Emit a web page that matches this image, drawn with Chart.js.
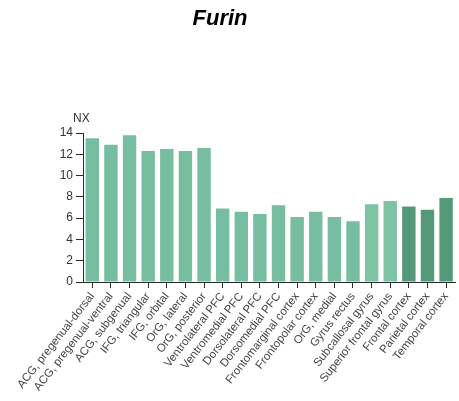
<!DOCTYPE html>
<html>
<head>
<meta charset="utf-8">
<script src="https://cdn.jsdelivr.net/npm/chart.js@4.4.1/dist/chart.umd.min.js"></script>
<style>
  html, body { margin: 0; padding: 0; background: #ffffff; }
  #wrap { width: 459px; height: 401px; position: relative; }
</style>
</head>
<body>
<div id="wrap"><canvas id="chart"></canvas></div>
<script>
// Brain regions and Furin expression (NX)
const regions = [
  'ACG, pregenual-dorsal', 'ACG, pregenual-ventral', 'ACG, subgenual',
  'IFG, triangular', 'IFG, orbital', 'OrG, lateral', 'OrG, posterior',
  'Ventrolateral PFC', 'Ventromedial PFC', 'Dorsolateral PFC', 'Dorsomedial PFC',
  'Frontomarginal cortex', 'Frontopolar cortex', 'OrG, medial', 'Gyrus rectus',
  'Subcallosal gyrus', 'Superior frontal gyrus', 'Frontal cortex',
  'Parietal cortex', 'Temporal cortex'
];
const nxValues = [
  13.5, 12.9, 13.8, 12.3, 12.5, 12.3, 12.6,
  6.9, 6.6, 6.4, 7.2, 6.1, 6.6, 6.1, 5.7,
  7.3, 7.6, 7.1, 6.8, 7.9
];
const yTicks = [0, 2, 4, 6, 8, 10, 12, 14];

// Bar fills: detailed subregions lighter, whole-lobe regions darker
const lightFill = '#77bd9f';
const paleFill = '#7fc3a5';
const darkFill = '#55997b';
const barColors = regions.map((r, i) => {
  if (i >= 17) return darkFill;
  if (i === 15 || i === 16) return paleFill;
  return lightFill;
});

const axisColor = '#2b2b2b';
const textColor = '#444444';

// Heading and the unit label above the value axis
const annotations = {
  id: 'annotations',
  afterDraw(chart) {
    const ctx = chart.ctx;
    const y = chart.scales.y;
    ctx.save();
    ctx.fillStyle = '#000000';
    ctx.font = 'italic bold 22px "Liberation Sans", Arial, sans-serif';
    ctx.textAlign = 'center';
    ctx.textBaseline = 'middle';
    ctx.fillText('Furin', 220, 19);
    ctx.fillStyle = '#333333';
    ctx.font = '12px "Liberation Sans", Arial, sans-serif';
    ctx.textAlign = 'left';
    ctx.fillText('NX', 73, y.top - 14);
    ctx.restore();
  }
};

new Chart(document.getElementById('chart'), {
  type: 'bar',
  data: {
    labels: regions,
    datasets: [{
      data: nxValues,
      backgroundColor: barColors,
      borderWidth: 0,
      barPercentage: 0.72,
      categoryPercentage: 1.0
    }]
  },
  options: {
    responsive: true,
    maintainAspectRatio: false,
    animation: false,
    devicePixelRatio: 1,
    layout: { padding: { top: 133, right: 1, bottom: 0, left: 0 } },
    plugins: {
      legend: { display: false },
      tooltip: { enabled: false },
      title: { display: false }
    },
    scales: {
      x: {
        offset: true,
        grid: {
          drawOnChartArea: false,
          drawTicks: true,
          tickLength: 6,
          color: axisColor,
          offset: false
        },
        border: { display: true, color: axisColor, width: 1 },
        ticks: {
          autoSkip: false,
          maxRotation: 52,
          minRotation: 52,
          padding: 2,
          color: textColor,
          font: { family: '"Liberation Sans", Arial, sans-serif', size: 11.5 }
        },
        afterFit(scale) { scale.height = 119; }
      },
      y: {
        min: 0,
        max: 14,
        afterBuildTicks(scale) {
          scale.ticks = yTicks.map(v => ({ value: v }));
        },
        grid: {
          drawOnChartArea: false,
          drawTicks: true,
          tickLength: 7,
          color: axisColor
        },
        border: { display: true, color: axisColor, width: 1 },
        ticks: {
          padding: 3,
          color: '#333333',
          font: { family: '"Liberation Sans", Arial, sans-serif', size: 12 }
        },
        afterFit(scale) { scale.width = 83; }
      }
    }
  },
  plugins: [annotations]
});
</script>
</body>
</html>
